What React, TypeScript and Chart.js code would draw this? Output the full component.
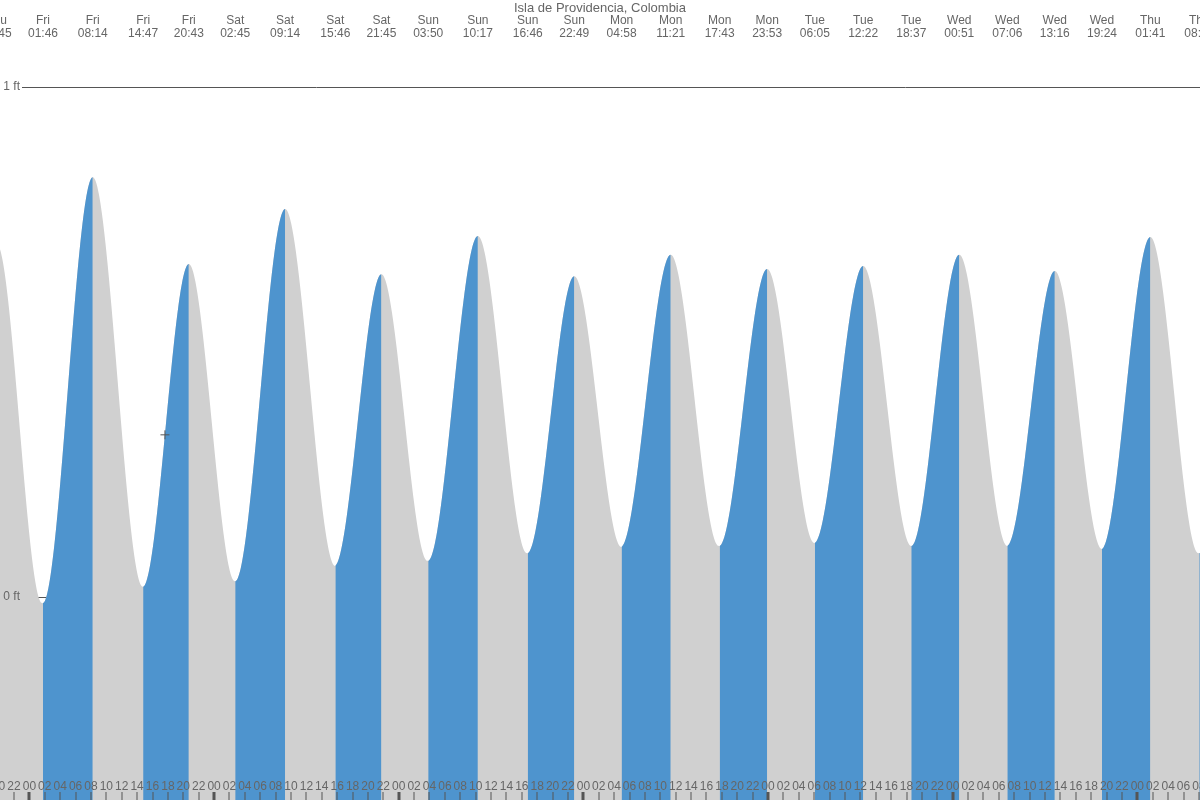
import { useEffect, useRef } from "react";
import { Chart, registerables } from "chart.js";

Chart.register(...registerables);

const placeName = "Isla de Providencia, Colombia";

// Tide extremes (day, local time, height in ft); first and last lie just outside the view
const tideDays = [
  "Thu", "Thu", "Fri", "Fri", "Fri", "Fri", "Sat", "Sat", "Sat", "Sat",
  "Sun", "Sun", "Sun", "Sun", "Mon", "Mon", "Mon", "Mon",
  "Tue", "Tue", "Tue", "Wed", "Wed", "Wed", "Wed", "Thu", "Thu", "Thu",
];
const tideTimes = [
  "13:40", "19:45", "01:46", "08:14", "14:47", "20:43", "02:45", "09:14", "15:46", "21:45",
  "03:50", "10:17", "16:46", "22:49", "04:58", "11:21", "17:43", "23:53",
  "06:05", "12:22", "18:37", "00:51", "07:06", "13:16", "19:24", "01:41", "08:03", "14:20",
];
const tideHeights = [
  -0.03, 0.692, -0.012, 0.823, 0.02, 0.653, 0.031, 0.761, 0.061, 0.633,
  0.071, 0.708, 0.086, 0.629, 0.098, 0.671, 0.1, 0.643,
  0.106, 0.649, 0.1, 0.671, 0.1, 0.639, 0.094, 0.706, 0.086, 0.66,
];

// Current-time marker (Friday)
const nowTime = "17:37";
const nowHeight = 0.318;

// Axis labels
const hourLabels = ["00", "02", "04", "06", "08", "10", "12", "14", "16", "18", "20", "22"];
const yTickValues = [0, 1];
const yTickLabels = ["0 ft", "1 ft"];

// Visible window (hours relative to Fri 00:00) and height range (ft)
const xMin = -3.82;
const xMax = 152.14;
const yMin = -0.398;
const yMax = 1.1706;

const BLUE = "rgb(78,148,206)";
const GRAY = "rgb(208,208,208)";
const TEXT = "#666666";
const LINE = "#555555";

function toHours(t: string) {
  const [h, m] = t.split(":").map(Number);
  return h + m / 60;
}

// hours from Fri 00:00; first day listed (Thu) is the day before
function buildHours(days: string[], times: string[]) {
  const out: number[] = [];
  let offset = -24;
  let prev = days[0];
  for (let i = 0; i < days.length; i++) {
    if (days[i] !== prev) {
      offset += 24;
      prev = days[i];
    }
    out.push(offset + toHours(times[i]));
  }
  return out;
}

const tideHours = buildHours(tideDays, tideTimes);
const nowHour = toHours(nowTime);

export default function App() {
  const canvasRef = useRef<HTMLCanvasElement | null>(null);

  useEffect(() => {
    document.body.style.margin = "0";
    const canvas = canvasRef.current;
    if (!canvas) return;

    const font12 = "12px 'Liberation Sans', Arial, sans-serif";
    const font13 = "13px 'Liberation Sans', Arial, sans-serif";

    const gridPlugin = {
      id: "tideGrid",
      beforeDatasetsDraw(chart: any) {
        const { ctx, scales, width } = chart;
        const y = scales.y;
        ctx.save();
        ctx.strokeStyle = LINE;
        ctx.lineWidth = 1;
        yTickValues.forEach((v) => {
          const py = Math.round(y.getPixelForValue(v)) + 0.5;
          ctx.beginPath();
          ctx.moveTo(22, py);
          ctx.lineTo(width, py);
          ctx.stroke();
        });
        ctx.restore();
      },
    };

    const labelPlugin = {
      id: "tideLabels",
      afterDatasetsDraw(chart: any) {
        const { ctx, scales, width, height } = chart;
        const x = scales.x;
        const y = scales.y;
        ctx.save();
        ctx.fillStyle = TEXT;
        ctx.font = font13;
        ctx.textAlign = "center";
        ctx.textBaseline = "alphabetic";
        ctx.fillText(placeName, width / 2, 12);
        ctx.font = font12;
        tideHours.forEach((h, i) => {
          const px = x.getPixelForValue(h);
          ctx.fillText(tideDays[i], px, 24);
          ctx.fillText(tideTimes[i], px, 37);
        });
        ctx.textAlign = "right";
        ctx.textBaseline = "middle";
        yTickValues.forEach((v, i) => {
          ctx.fillText(yTickLabels[i], 20, y.getPixelForValue(v));
        });
        ctx.textAlign = "center";
        ctx.textBaseline = "alphabetic";
        const start = Math.ceil(xMin / 2) * 2 - 2;
        for (let h = start; h <= xMax + 2; h += 2) {
          const idx = (((h / 2) % 12) + 12) % 12;
          const label = hourLabels[idx];
          const px = x.getPixelForValue(h);
          ctx.fillStyle = TEXT;
          ctx.fillText(label, px, 790);
          ctx.fillStyle = LINE;
          if (label === "00") {
            ctx.fillRect(Math.round(px) - 1.5, 792, 3, height - 792);
          } else {
            ctx.fillRect(Math.round(px) - 0.5, 792, 1, height - 792);
          }
        }
        ctx.restore();
      },
    };

    const tidePoints = tideHours.map((h, i) => ({ x: h, y: tideHeights[i] }));

    const chart = new Chart(canvas, {
      type: "line",
      data: {
        datasets: [
          {
            data: [{ x: nowHour, y: nowHeight }],
            pointStyle: "cross",
            pointRadius: 4.5,
            borderColor: LINE,
            backgroundColor: LINE,
            borderWidth: 1,
            showLine: false,
            fill: false,
            order: 1,
          } as any,
          {
            // rising (flood) parts in blue, drawn over the grey base
            data: tidePoints,
            fill: "start",
            borderWidth: 0,
            borderColor: "rgba(0,0,0,0)",
            backgroundColor: "rgba(0,0,0,0)",
            pointRadius: 0,
            cubicInterpolationMode: "monotone",
            segment: {
              backgroundColor: (c: any) => (c.p1.parsed.y > c.p0.parsed.y ? BLUE : "rgba(0,0,0,0)"),
            },
            order: 2,
          } as any,
          {
            // full grey base under the curve
            data: tidePoints,
            fill: "start",
            borderWidth: 0,
            borderColor: "rgba(0,0,0,0)",
            backgroundColor: GRAY,
            pointRadius: 0,
            cubicInterpolationMode: "monotone",
            order: 3,
          } as any,
        ],
      },
      options: {
        animation: false,
        responsive: false,
        maintainAspectRatio: false,
        events: [],
        layout: { padding: 0, autoPadding: false },
        elements: { line: { capBezierPoints: false } },
        plugins: {
          legend: { display: false },
          tooltip: { enabled: false },
          title: { display: false },
        },
        scales: {
          x: { type: "linear", display: false, min: xMin, max: xMax },
          y: { type: "linear", display: false, min: yMin, max: yMax },
        },
      } as any,
      plugins: [gridPlugin, labelPlugin],
    });

    return () => chart.destroy();
  }, []);

  return (
    <div style={{ width: 1200, height: 800, position: "relative" }}>
      <canvas ref={canvasRef} width={1200} height={800} style={{ display: "block" }} />
    </div>
  );
}
